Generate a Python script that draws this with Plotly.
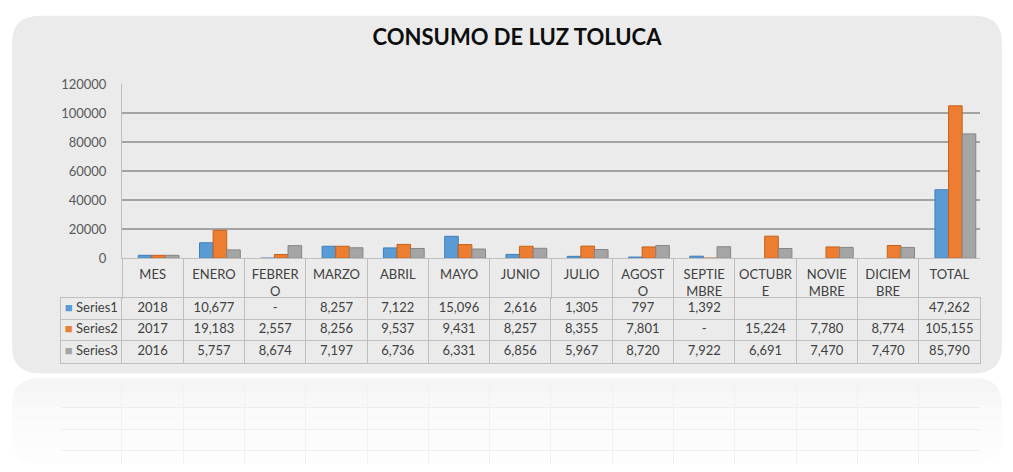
import plotly.graph_objects as go

# ---------------- data ----------------
categories = ["MES", "ENERO", "FEBRERO", "MARZO", "ABRIL", "MAYO", "JUNIO", "JULIO",
              "AGOSTO", "SEPTIEMBRE", "OCTUBRE", "NOVIEMBRE", "DICIEMBRE", "TOTAL"]
header_labels = ["MES", "ENERO", "FEBRER<br>O", "MARZO", "ABRIL", "MAYO", "JUNIO", "JULIO",
                 "AGOST<br>O", "SEPTIE<br>MBRE", "OCTUBR<br>E", "NOVIE<br>MBRE", "DICIEM<br>BRE", "TOTAL"]
series_names = ["Series1", "Series2", "Series3"]
series1 = [2018, 10677, 0, 8257, 7122, 15096, 2616, 1305, 797, 1392, None, None, None, 47262]
series2 = [2017, 19183, 2557, 8256, 9537, 9431, 8257, 8355, 7801, 0, 15224, 7780, 8774, 105155]
series3 = [2016, 5757, 8674, 7197, 6736, 6331, 6856, 5967, 8720, 7922, 6691, 7470, 7470, 85790]
y_ticks = [0, 20000, 40000, 60000, 80000, 100000, 120000]
title_text = "CONSUMO DE LUZ TOLUCA"

colors = ["#5B9BD5", "#ED7D31", "#A5A5A5"]
edge = ["#3F7FBF", "#C5621A", "#858585"]
all_series = [series1, series2, series3]

W, H = 1013, 472
PANEL = "#EBEBEB"
FONT = "Lato"
TXT = "#404040"
GRIDC = "#BFBFBF"
KEY = "key"

# bar geometry (fraction of a category slot); the 3D view shifts bars slightly right
BAR_W = 0.222
GROUP_SHIFT = 0.098

def fmt(cat, v):
    if v is None:
        return ""
    if v == 0:
        return "-"
    if cat == "MES":
        return str(v)
    return f"{v:,}"

X = lambda px: px / W
Y = lambda py: 1 - py / H

fig = go.Figure()

# ---------------- bars ----------------
k = len(series_names)
for i, (name, vals, c, e) in enumerate(zip(series_names, all_series, colors, edge)):
    fig.add_trace(go.Bar(
        x=categories, y=vals, name=name,
        width=BAR_W, offset=-k * BAR_W / 2 + i * BAR_W + GROUP_SHIFT,
        marker=dict(color=c, line=dict(color=e, width=1)),
        showlegend=False, xaxis="x", yaxis="y",
    ))

# ---------------- data table (text on a category grid) ----------------
for name, vals in zip(series_names, all_series):
    fig.add_trace(go.Scatter(
        x=categories, y=[name] * len(categories),
        text=[fmt(cat, v) for cat, v in zip(categories, vals)],
        mode="text", textposition="middle center",
        textfont=dict(family=FONT, size=13, color=TXT),
        showlegend=False, hoverinfo="skip", xaxis="x2", yaxis="y2",
    ))
fig.add_trace(go.Scatter(
    x=[KEY] * len(series_names), y=series_names,
    text=[f"<span style='color:{c}'>■</span> {n}" for n, c in zip(series_names, colors)],
    mode="text", textposition="middle center",
    textfont=dict(family=FONT, size=13, color=TXT),
    showlegend=False, hoverinfo="skip", xaxis="x2", yaxis="y2",
))

# ---------------- panel shapes ----------------
def rrect(x0, y0, x1, y1, r):
    return (f"M {X(x0 + r)},{Y(y0)} L {X(x1 - r)},{Y(y0)} Q {X(x1)},{Y(y0)} {X(x1)},{Y(y0 + r)} "
            f"L {X(x1)},{Y(y1 - r)} Q {X(x1)},{Y(y1)} {X(x1 - r)},{Y(y1)} "
            f"L {X(x0 + r)},{Y(y1)} Q {X(x0)},{Y(y1)} {X(x0)},{Y(y1 - r)} "
            f"L {X(x0)},{Y(y0 + r)} Q {X(x0)},{Y(y0)} {X(x0 + r)},{Y(y0)} Z")

shapes = [
    dict(type="path", xref="paper", yref="paper", path=rrect(12, 8, 1002, 378, 28),
         fillcolor=PANEL, line=dict(width=0), layer="below"),
    dict(type="path", xref="paper", yref="paper", path=rrect(12, 383, 1002, 472, 28),
         fillcolor="#F5F5F5", line=dict(width=0), layer="below"),
]
for y0 in (398, 412, 426, 440, 454):
    shapes.append(dict(type="rect", xref="paper", yref="paper", x0=0, x1=1, y0=Y(y0), y1=0,
                       fillcolor="rgba(255,255,255,0.3)", line=dict(width=0), layer="below"))

tbl_left, tbl_right = 60.7, 980
cat_left = 122

n = len(categories)
refl_bounds = [b - 0.5 for b in range(-1, n + 1)]

fig.update_layout(
    width=W, height=H,
    margin=dict(l=0, r=0, t=0, b=0),
    paper_bgcolor="white",
    plot_bgcolor="rgba(0,0,0,0)",
    shapes=shapes,
    barmode="overlay",
    title=dict(text=f"<b>{title_text}</b>", x=X(517), xanchor="center", y=Y(37), yanchor="middle",
               font=dict(family=FONT, size=22, color="#0D0D0D")),
    # bar chart axes
    xaxis=dict(domain=[X(cat_left), X(tbl_right)], type="category",
               categoryorder="array", categoryarray=categories,
               range=[-0.5, n - 0.5],
               tickvals=categories, ticktext=header_labels, tickangle=0,
               tickson="boundaries", ticks="outside", ticklen=40, tickwidth=1, tickcolor=GRIDC,
               ticklabelstandoff=4,
               tickfont=dict(family=FONT, size=13, color=TXT),
               showgrid=False, zeroline=False,
               showline=True, linecolor=GRIDC, linewidth=1, fixedrange=True, anchor="y"),
    yaxis=dict(domain=[Y(259), Y(79)], range=[0, 120000],
               tickvals=y_ticks, ticktext=[str(v) for v in y_ticks],
               showgrid=True, gridcolor="#A3A3A3", gridwidth=1.6,
               zeroline=False,
               showline=True, linecolor=GRIDC, linewidth=1,
               ticklabelstandoff=12, anchor="x",
               tickfont=dict(family=FONT, size=13, color="#595959"), fixedrange=True),
    # data table grid
    xaxis2=dict(domain=[X(tbl_left), X(tbl_right)], type="category",
                categoryorder="array", categoryarray=[KEY] + categories,
                range=[-0.5, n + 0.5], tickson="boundaries",
                showticklabels=False, ticks="", showgrid=True, gridcolor=GRIDC, gridwidth=1,
                zeroline=False, showline=True, mirror=True, linecolor=GRIDC, linewidth=1,
                fixedrange=True, anchor="y2"),
    yaxis2=dict(domain=[Y(367), Y(300)], type="category",
                categoryorder="array", categoryarray=series_names[::-1],
                range=[-0.5, len(series_names) - 0.5], tickson="boundaries",
                showticklabels=False, ticks="", showgrid=True, gridcolor=GRIDC, gridwidth=1,
                zeroline=False, showline=True, mirror=True, linecolor=GRIDC, linewidth=1,
                fixedrange=True, anchor="x2"),
    # faint reflection grid
    xaxis3=dict(domain=[X(tbl_left), X(tbl_right)], range=[-1.5, n - 0.5],
                tickvals=refl_bounds, showticklabels=False, ticks="",
                showgrid=True, gridcolor="#F1F1F1", zeroline=False, showline=False,
                fixedrange=True, anchor="y3"),
    yaxis3=dict(domain=[Y(472), Y(391)], range=[-0.62, 3.02], tickvals=[0, 1, 2, 3],
                showticklabels=False, ticks="", showgrid=True, gridcolor="#EEEEEE",
                zeroline=False, showline=False, fixedrange=True, anchor="x3"),
    font=dict(family=FONT),
)
# keep the reflection axes alive with an empty trace
fig.add_trace(go.Scatter(x=[None], y=[None], xaxis="x3", yaxis="y3", showlegend=False,
                         hoverinfo="skip", mode="markers"))

fig.write_html(
    "out.html",
    config={"displayModeBar": False},
    post_script="document.body.style.margin='0';document.body.style.overflow='hidden';"
                "document.documentElement.style.overflow='hidden';",
)
